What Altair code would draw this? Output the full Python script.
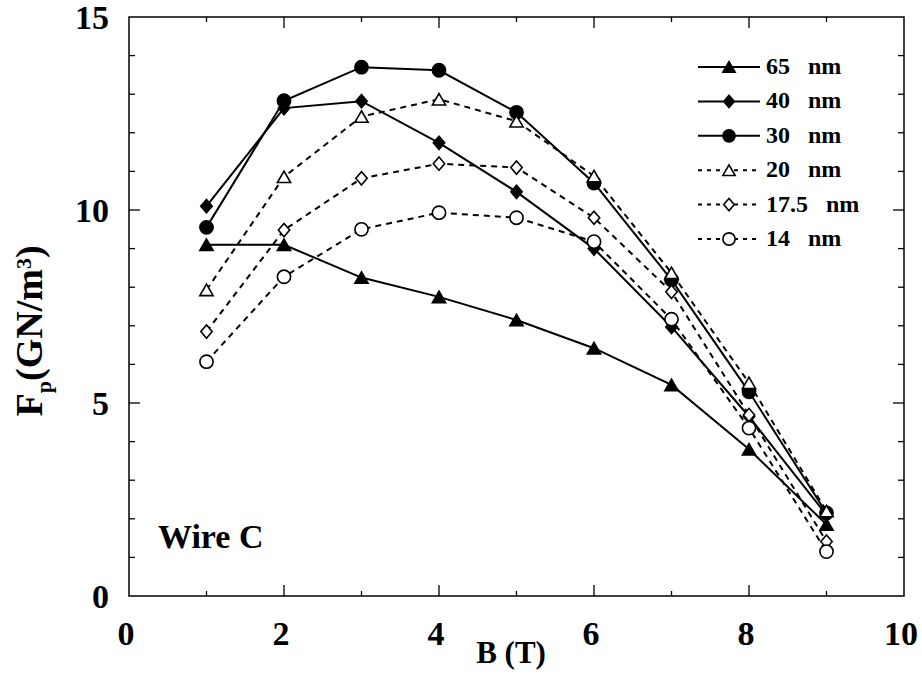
import altair as alt
import pandas as pd

# Pinning force density versus field for wires of different filament size
b_tesla = [1, 2, 3, 4, 5, 6, 7, 8, 9]
series_labels = ["65 nm", "40 nm", "30 nm", "20 nm", "17.5 nm", "14 nm"]
fp_65 = [9.1, 9.1, 8.25, 7.75, 7.15, 6.42, 5.47, 3.8, 1.85]
fp_40 = [10.1, 12.64, 12.82, 11.74, 10.47, 9.0, 6.97, 4.65, 2.1]
fp_30 = [9.55, 12.83, 13.7, 13.62, 12.53, 10.7, 8.19, 5.29, 2.15]
fp_20 = [7.93, 10.86, 12.42, 12.87, 12.3, 10.88, 8.37, 5.52, 2.2]
fp_17_5 = [6.85, 9.48, 10.82, 11.2, 11.1, 9.8, 7.88, 4.69, 1.41]
fp_14 = [6.07, 8.27, 9.5, 9.93, 9.8, 9.18, 7.17, 4.35, 1.15]

series_values = [fp_65, fp_40, fp_30, fp_20, fp_17_5, fp_14]
line_styles = ["solid", "solid", "solid", "dashed", "dashed", "dashed"]
DIAMOND = "M-0.86,0L0,-1L0.86,0L0,1Z"
marker_shapes = ["triangle-up", DIAMOND, "circle", "triangle-up", DIAMOND, "circle"]
marker_fills = ["black", "black", "black", "white", "white", "white"]

x_major = [2, 4, 6, 8]
x_minor = [1, 3, 5, 7, 9]
y_major = [5, 10]
y_minor = [1, 2, 3, 4, 6, 7, 8, 9, 11, 12, 13, 14]
x_labels = [0, 2, 4, 6, 8, 10]
y_labels = [0, 5, 10, 15]

x_title = "B (T)"
# y title set in pieces so the subscript p and superscript 3 can be sized apart
y_title_parts = ["F", "p", "(GN/m", "3", ")"]
y_title_sizes = [38, 22, 38, 22, 38]
y_title_start = [399.5, 376.3, 364.0, 252.0, 241.0]   # offsets down from plot top
y_title_base = [-87, -78, -87, -98, -87]              # offsets from plot left

W, H = 775, 579
FONT = "Liberation Serif"

rows = []
for name, vals, style in zip(series_labels, series_values, line_styles):
    for b, v in zip(b_tesla, vals):
        rows.append({"series": name, "B": b, "Fp": v, "style": style})
df = pd.DataFrame(rows)

legend_df = pd.DataFrame({
    "series": series_labels,
    "row": list(range(len(series_labels))),
    "text": [s.replace(" ", "\u00a0\u00a0\u00a0") for s in series_labels],
    "style": line_styles,
})

x_scale = alt.Scale(domain=[0, 10], nice=False, zero=False)
y_scale = alt.Scale(domain=[0, 15], nice=False, zero=False)
shape_scale = alt.Scale(domain=series_labels, range=marker_shapes)
fill_scale = alt.Scale(domain=series_labels, range=marker_fills)

base = alt.Chart(df)
X = alt.X("B:Q", scale=x_scale, axis=None)
Y = alt.Y("Fp:Q", scale=y_scale, axis=None)

solid_lines = base.transform_filter(alt.datum.style == "solid").mark_line(
    color="black", strokeWidth=2
).encode(x=X, y=Y, detail="series:N")
dashed_lines = base.transform_filter(alt.datum.style == "dashed").mark_line(
    color="black", strokeWidth=2, strokeDash=[6, 5]
).encode(x=X, y=Y, detail="series:N")
points = base.mark_point(
    filled=True, stroke="black", strokeWidth=1.6, size=175, opacity=1
).encode(
    x=X, y=Y,
    shape=alt.Shape("series:N", scale=shape_scale, legend=None),
    fill=alt.Fill("series:N", scale=fill_scale, legend=None),
)


def x_ticks(values, length):
    d = pd.DataFrame({"v": values})
    vx = alt.X("v:Q", scale=x_scale, axis=None)
    bottom = alt.Chart(d).mark_rule(color="black", strokeWidth=1.3).encode(
        x=vx, y=alt.value(H), y2=alt.value(H - length))
    top = alt.Chart(d).mark_rule(color="black", strokeWidth=1.3).encode(
        x=vx, y=alt.value(0), y2=alt.value(length))
    return [bottom, top]


def y_ticks(values, length):
    d = pd.DataFrame({"v": values})
    vy = alt.Y("v:Q", scale=y_scale, axis=None)
    left = alt.Chart(d).mark_rule(color="black", strokeWidth=1.3).encode(
        y=vy, x=alt.value(0), x2=alt.value(length))
    right = alt.Chart(d).mark_rule(color="black", strokeWidth=1.3).encode(
        y=vy, x=alt.value(W), x2=alt.value(W - length))
    return [left, right]


tick_layers = x_ticks(x_major, 11) + x_ticks(x_minor, 5) + y_ticks(y_major, 11) + y_ticks(y_minor, 6)

# Tick labels placed through the same scales as the data
x_tick_text = alt.Chart(pd.DataFrame({"v": x_labels})).mark_text(
    font=FONT, fontSize=34, fontWeight="bold", baseline="alphabetic", align="center",
    color="black", dx=-3,
).encode(x=alt.X("v:Q", scale=x_scale, axis=None), y=alt.value(H + 49), text="v:Q")
y_tick_text = alt.Chart(pd.DataFrame({"v": y_labels})).mark_text(
    font=FONT, fontSize=34, fontWeight="bold", baseline="middle", align="right",
    color="black", dy=2,
).encode(y=alt.Y("v:Q", scale=y_scale, axis=None), x=alt.value(-20), text="v:Q")

x_title_text = alt.Chart(pd.DataFrame({"t": [x_title]})).mark_text(
    font=FONT, fontSize=31, fontWeight="bold", baseline="alphabetic", align="center",
    color="black",
).encode(x=alt.value(382), y=alt.value(646), text="t:N")

y_title_df = pd.DataFrame({
    "t": y_title_parts, "size": y_title_sizes,
    "ys": y_title_start, "xb": y_title_base,
})
y_title_text = alt.Chart(y_title_df).mark_text(
    font=FONT, fontWeight="bold", baseline="alphabetic", align="left",
    color="black", angle=270,
).encode(
    x=alt.X("xb:Q", scale=None, axis=None),
    y=alt.Y("ys:Q", scale=None, axis=None),
    size=alt.Size("size:Q", scale=None, legend=None),
    text="t:N",
)

# In-plot key: rows stacked downward from the top of the plot area (pixel offsets)
KEY_TOP, KEY_STEP = 50, 34.4
leg = alt.Chart(legend_df).transform_calculate(
    ypix=f"{KEY_TOP} + datum.row * {KEY_STEP}"
)
key_y = alt.Y("ypix:Q", scale=None, axis=None)
leg_solid = leg.transform_filter(alt.datum.style == "solid").mark_rule(
    color="black", strokeWidth=2
).encode(x=alt.value(569), x2=alt.value(631), y=key_y)
leg_dashed = leg.transform_filter(alt.datum.style == "dashed").mark_rule(
    color="black", strokeWidth=2, strokeDash=[4, 5]
).encode(x=alt.value(569), x2=alt.value(631), y=key_y)
leg_points = leg.mark_point(
    filled=True, stroke="black", strokeWidth=1.6, size=150, opacity=1
).encode(
    x=alt.value(600),
    y=key_y,
    shape=alt.Shape("series:N", scale=shape_scale, legend=None),
    fill=alt.Fill("series:N", scale=fill_scale, legend=None),
)
leg_text = leg.mark_text(
    font=FONT, fontSize=24, fontWeight="bold", align="left", baseline="middle", color="black"
).encode(x=alt.value(637), y=key_y, text="text:N")

wire_label = alt.Chart(pd.DataFrame({"t": ["Wire C"]})).mark_text(
    font=FONT, fontSize=34, fontWeight="bold", align="left", baseline="alphabetic", color="black"
).encode(x=alt.value(29), y=alt.value(531), text="t:N")

chart = alt.layer(
    solid_lines, dashed_lines, points, *tick_layers,
    x_tick_text, y_tick_text, x_title_text, y_title_text,
    leg_solid, leg_dashed, leg_points, leg_text, wire_label,
).properties(
    width=W, height=H,
    padding={"left": 129, "top": 17, "right": 18, "bottom": 85},
    autosize=alt.AutoSizeParams(type="none"),
    background="white",
).configure_view(stroke="black", strokeWidth=1.5)

chart.save("out.html", embed_options={"renderer": "svg", "actions": False})
